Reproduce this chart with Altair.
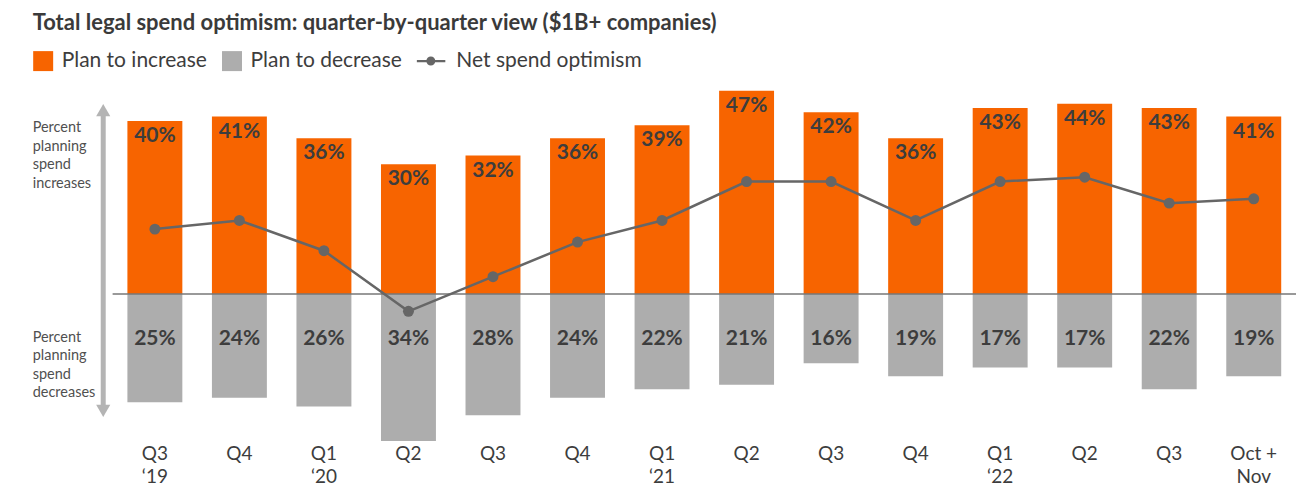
import json
import altair as alt
import pandas as pd

# ---- data ----
quarter_line1 = ["Q3", "Q4", "Q1", "Q2", "Q3", "Q4", "Q1", "Q2", "Q3", "Q4", "Q1", "Q2", "Q3", "Oct +"]
quarter_line2 = ["\u201819", "", "\u201820", "", "", "", "\u201821", "", "", "", "\u201822", "", "", "Nov"]
plan_increase = [40, 41, 36, 30, 32, 36, 39, 47, 42, 36, 43, 44, 43, 41]
plan_decrease = [25, 24, 26, 34, 28, 24, 22, 21, 16, 19, 17, 17, 22, 19]
net_optimism = [15, 17, 10, -4, 4, 12, 17, 26, 26, 17, 26, 27, 21, 22]
series_names = ["Plan to increase", "Plan to decrease", "Net spend optimism"]

TITLE = "Total legal spend optimism: quarter-by-quarter view ($1B+ companies)"
INC_NOTE = ["Percent", "planning", "spend", "increases"]
DEC_NOTE = ["Percent", "planning", "spend", "decreases"]

ORANGE = "#F76400"
GRAY = "#ADADAD"
LINE = "#666666"
TEXT = "#3d3d3d"
FONT = "Lato"

n = len(quarter_line1)
rows = []
for i in range(n):
    rows.append({"i": i, "series": series_names[0], "val": plan_increase[i], "lab": f"{plan_increase[i]}%"})
    rows.append({"i": i, "series": series_names[1], "val": -plan_decrease[i], "lab": f"{plan_decrease[i]}%"})
bars_df = pd.DataFrame(rows)
inc_df = bars_df[bars_df.series == series_names[0]]
dec_df = bars_df[bars_df.series == series_names[1]]
net_df = pd.DataFrame({"i": list(range(n)), "net": net_optimism, "series": series_names[2]})
one = pd.DataFrame({"zero": [0]})

labels = [[a, b] if b else [a] for a, b in zip(quarter_line1, quarter_line2)]
label_expr = json.dumps(labels, ensure_ascii=False) + "[datum.value]"

PX_PER = 4.33
Y_MIN, Y_MAX = -33, 48
W = 1184.4
H = (Y_MAX - Y_MIN) * PX_PER

x_enc = alt.X(
    "i:O",
    scale=alt.Scale(paddingInner=0.35, paddingOuter=0.175),
    axis=alt.Axis(
        title=None, domain=False, ticks=False, labelAngle=0, labelExpr=label_expr,
        labelFontSize=19, labelFont=FONT, labelColor=TEXT, labelLineHeight=23,
        labelPadding=8, labelBaseline="top",
    ),
)
y_scale = alt.Scale(domain=[Y_MIN, Y_MAX], nice=False, zero=False)

line_path = ("M-2.1,-0.12 L0.75,-0.12 L0.75,0.12 L-2.1,0.12 Z "
             "M-0.25,0 A0.45,0.45 0 1,1 -1.15,0 A0.45,0.45 0 1,1 -0.25,0 Z")

legend = alt.Legend(
    title=None, orient="none", direction="horizontal", legendX=-80, legendY=-36,
    labelFontSize=21, labelFont=FONT, labelColor=TEXT, symbolSize=400,
    labelOffset=8, columnPadding=14, symbolOpacity=1, symbolStrokeWidth=0,
    labelLimit=400,
)
color_scale = alt.Scale(domain=series_names, range=[ORANGE, GRAY, LINE])
shape_scale = alt.Scale(domain=series_names, range=["square", "square", line_path])

bars = alt.Chart(bars_df).mark_bar().encode(
    x=x_enc,
    y=alt.Y("val:Q", scale=y_scale, axis=None),
    color=alt.Color("series:N", scale=color_scale, legend=legend),
)

# invisible layer that only carries the legend symbols
legend_layer = alt.Chart(net_df).mark_point(filled=True, opacity=0).encode(
    x=x_enc,
    y=alt.Y("net:Q", scale=y_scale),
    color=alt.Color("series:N", scale=color_scale, legend=legend),
    shape=alt.Shape("series:N", scale=shape_scale, legend=legend),
)

base_rule = alt.Chart(one).mark_rule(color="#777777", strokeWidth=1.5).encode(
    y=alt.Y("zero:Q", scale=y_scale)
)

net_line = alt.Chart(net_df).mark_line(color=LINE, strokeWidth=2.5).encode(
    x=x_enc, y=alt.Y("net:Q", scale=y_scale)
)
net_pts = alt.Chart(net_df).mark_point(filled=True, color=LINE, size=120, opacity=1).encode(
    x=x_enc, y=alt.Y("net:Q", scale=y_scale)
)

inc_text = alt.Chart(inc_df).mark_text(
    font=FONT, fontSize=21, fontWeight="bold", color=TEXT, baseline="middle", dy=15
).encode(x=x_enc, y=alt.Y("val:Q", scale=y_scale), text="lab:N")

dec_text = alt.Chart(dec_df).mark_text(
    font=FONT, fontSize=21, fontWeight="bold", color=TEXT, baseline="middle"
).encode(x=x_enc, y=alt.value(294 - 86.2 + 45), text="lab:N")

note_inc = alt.Chart(one).mark_text(
    font=FONT, fontSize=14.5, color="#505050", align="left", baseline="middle", lineHeight=18.5
).encode(x=alt.value(-80), y=alt.value(128 - 86.2), text=alt.value(INC_NOTE))
note_dec = alt.Chart(one).mark_text(
    font=FONT, fontSize=14.5, color="#505050", align="left", baseline="middle", lineHeight=18.5
).encode(x=alt.value(-80), y=alt.value(338 - 86.2), text=alt.value(DEC_NOTE))

arrow_shaft = alt.Chart(one).mark_rule(color="#B4B4B4", strokeWidth=5).encode(
    x=alt.value(-9.4), y=alt.value(112 - 86.2), y2=alt.value(409 - 86.2)
)
arrow_up = alt.Chart(one).mark_point(shape="triangle-up", filled=True, color="#B4B4B4", size=200, opacity=1).encode(
    x=alt.value(-9.4), y=alt.value(110 - 86.2)
)
arrow_down = alt.Chart(one).mark_point(shape="triangle-down", filled=True, color="#B4B4B4", size=200, opacity=1).encode(
    x=alt.value(-9.4), y=alt.value(411 - 86.2)
)

chart = alt.layer(
    bars, legend_layer, base_rule, net_line, net_pts, inc_text, dec_text,
    arrow_shaft, arrow_up, arrow_down, note_inc, note_dec,
).properties(
    width=W, height=H,
    padding={"left": 104.7, "top": 78.2, "right": 5, "bottom": 54},
    autosize=alt.AutoSizeParams(type="none"),
    title=alt.TitleParams(
        TITLE, anchor="start", frame="group", dx=-80, fontSize=22, font=FONT,
        fontWeight="bold", color="#3a3a3a", offset=15,
    ),
).configure_view(stroke=None)

chart.save("out.html", embed_options={"renderer": "svg", "actions": False})
